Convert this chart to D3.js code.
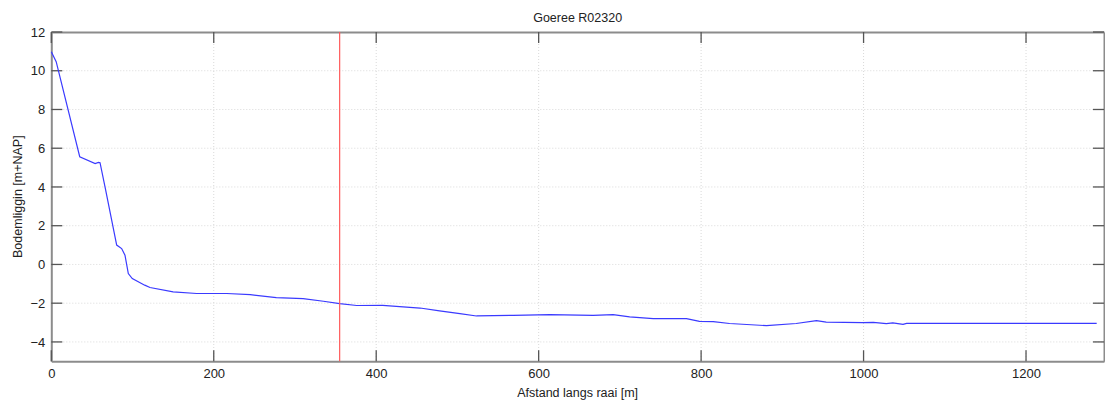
<!DOCTYPE html>
<html>
<head>
<meta charset="utf-8">
<script src="https://cdn.jsdelivr.net/npm/d3@7"></script>
<style>
  body { margin: 0; background: #fff; }
  svg { display: block; font-family: "Liberation Sans", Arial, sans-serif; }
</style>
</head>
<body>
<svg width="1105" height="401"></svg>
<script>
const svg_width = 1105;
const svg_height = 401;

// distance along the transect [m]
const afstand = [0, 6, 35, 54, 58, 60, 67, 80.5, 86.6, 90.7, 94.8, 99.7, 115, 121.5, 150, 179, 216, 245, 277, 310,
  335, 355, 376, 408, 454, 478, 503, 523.5, 568.6, 613.8, 667, 691.7, 712, 741, 782, 798, 815, 835,
  880.5, 917, 942, 954, 999, 1012, 1028, 1036, 1048.6, 1053, 1287];
// bed level [m+NAP]
const bodem = [10.98, 10.47, 5.56, 5.21, 5.27, 5.25, 3.83, 1.0, 0.82, 0.48, -0.47, -0.73, -1.07, -1.19, -1.42, -1.5, -1.5, -1.56, -1.71, -1.76,
  -1.9, -2.02, -2.12, -2.11, -2.25, -2.4, -2.54, -2.66, -2.63, -2.59, -2.63, -2.59, -2.71, -2.8, -2.8, -2.94, -2.95, -3.05,
  -3.16, -3.05, -2.9, -2.98, -3.0, -2.99, -3.05, -3.02, -3.09, -3.04, -3.04];

const x_ticks = [0, 200, 400, 600, 800, 1000, 1200];
const y_ticks = [-4, -2, 0, 2, 4, 6, 8, 10, 12];
const marker_x = 355; // red reference line

const margin = { left: 51.3, right: 1, top: 32, bottom: 39.7 };
const plot_w = svg_width - margin.left - margin.right;
const plot_h = svg_height - margin.top - margin.bottom;

const svg = d3.select("svg");
const g = svg.append("g").attr("transform", `translate(${margin.left},${margin.top})`);

const x = d3.scaleLinear().domain([0, 1296]).range([0, plot_w]);
const y = d3.scaleLinear().domain([-5, 12]).range([plot_h, 0]);

// dotted grid
g.append("g")
  .selectAll("line")
  .data(x_ticks.filter(d => d > 0))
  .join("line")
  .attr("x1", d => x(d)).attr("x2", d => x(d))
  .attr("y1", 0).attr("y2", plot_h)
  .attr("stroke", "#d9d9d9").attr("stroke-dasharray", "1,2");
g.append("g")
  .selectAll("line")
  .data(y_ticks.filter(d => d < 12))
  .join("line")
  .attr("x1", 0).attr("x2", plot_w)
  .attr("y1", d => y(d)).attr("y2", d => y(d))
  .attr("stroke", "#d9d9d9").attr("stroke-dasharray", "1,2");

// axes (labels + box); tick marks drawn inward below
const tick_len = 11;
const fmt = d3.format("d");
const bottom = g.append("g").attr("transform", `translate(0,${plot_h})`)
  .call(d3.axisBottom(x).tickValues(x_ticks).tickFormat(fmt).tickSize(0).tickPadding(7));
const top_axis = g.append("g")
  .call(d3.axisTop(x).tickValues(x_ticks).tickSize(0).tickFormat(""));
const left = g.append("g")
  .call(d3.axisLeft(y).tickValues(y_ticks).tickFormat(fmt).tickSize(0).tickPadding(6));
const right = g.append("g").attr("transform", `translate(${plot_w},0)`)
  .call(d3.axisRight(y).tickValues(y_ticks).tickSize(0).tickFormat(""));

[bottom, top_axis, left, right].forEach(a => {
  a.select(".domain").attr("stroke", "#8c8c8c").attr("stroke-width", 2);
  a.selectAll(".tick text").attr("fill", "#222").style("font-size", "13px");
});

const ticks = g.append("g").attr("stroke", "#555").attr("stroke-width", 1.3);
x_ticks.forEach(d => {
  ticks.append("line").attr("x1", x(d)).attr("x2", x(d)).attr("y1", plot_h).attr("y2", plot_h - tick_len);
  ticks.append("line").attr("x1", x(d)).attr("x2", x(d)).attr("y1", 0).attr("y2", tick_len);
});
y_ticks.forEach(d => {
  ticks.append("line").attr("x1", 0).attr("x2", tick_len).attr("y1", y(d)).attr("y2", y(d));
  ticks.append("line").attr("x1", plot_w).attr("x2", plot_w - tick_len).attr("y1", y(d)).attr("y2", y(d));
});

// profile
const line = d3.line().x((d, i) => x(afstand[i])).y(d => y(d));
g.append("path")
  .datum(bodem)
  .attr("fill", "none")
  .attr("stroke", "#3a3aff")
  .attr("stroke-width", 1.2)
  .attr("d", line);

// reference line
g.append("line")
  .attr("x1", x(marker_x)).attr("x2", x(marker_x))
  .attr("y1", 0).attr("y2", plot_h)
  .attr("stroke", "#ff5a5a").attr("stroke-width", 1.2);

// labels
svg.append("text")
  .attr("x", margin.left + plot_w / 2).attr("y", 22)
  .attr("text-anchor", "middle").style("font-size", "12.5px").attr("fill", "#222")
  .text("Goeree R02320");
svg.append("text")
  .attr("x", margin.left + plot_w / 2).attr("y", 397)
  .attr("text-anchor", "middle").style("font-size", "12.5px").attr("fill", "#222")
  .text("Afstand langs raai [m]");
svg.append("text")
  .attr("transform", `translate(22,${margin.top + plot_h / 2}) rotate(-90)`)
  .attr("text-anchor", "middle").style("font-size", "12.5px").attr("fill", "#222")
  .text("Bodemliggin [m+NAP]");
</script>
</body>
</html>
